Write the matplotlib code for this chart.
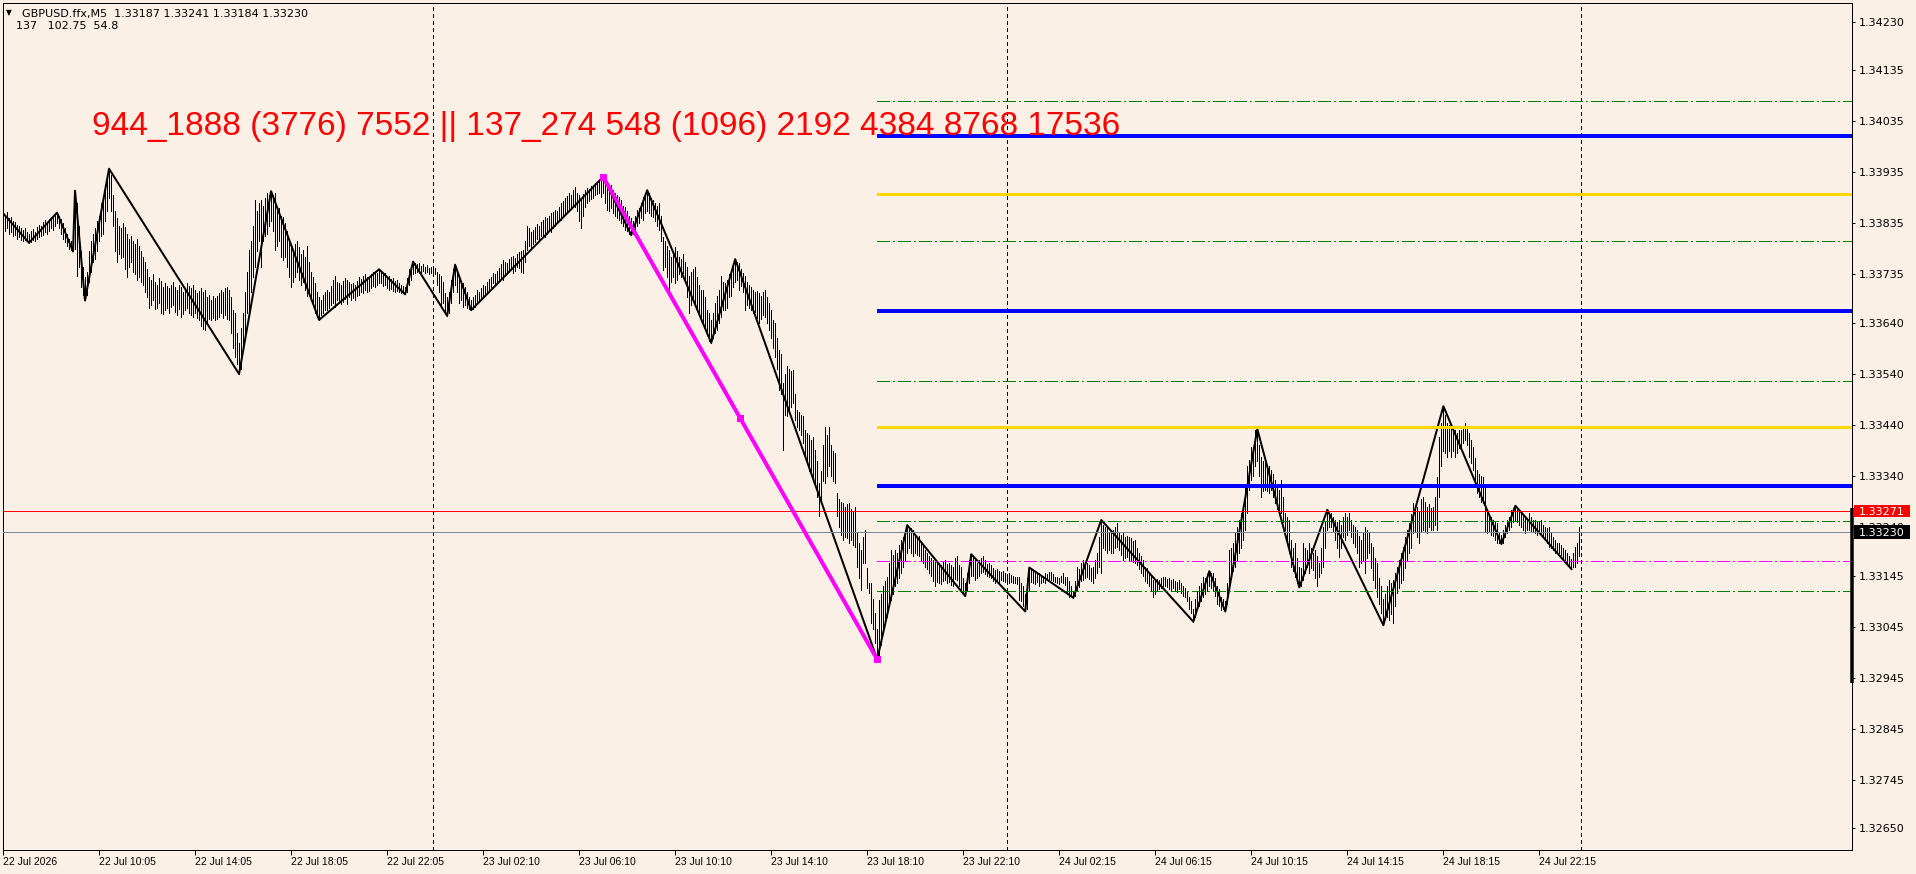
import matplotlib
matplotlib.use("Agg")
import matplotlib.pyplot as plt
from matplotlib import font_manager
from matplotlib.patches import Rectangle
from matplotlib.transforms import IdentityTransform

# M5 bars, (high, low) in points above 1.32900
price_base = 1.32900
point = 0.00001
bar_high_low = [
    (955, 930), (950, 920), (958, 925), (945, 915), (948, 918), (940, 910), (938, 912), (932, 905), (930, 908), (926, 902),
    (922, 900), (925, 903), (918, 900), (915, 897),
    (920, 899), (924, 902), (918, 900), (928, 905), (932, 908), (930, 910), (938, 913), (942, 918), (936, 915), (944, 920),
    (948, 925), (945, 922), (952, 930), (956, 935),
    (950, 925), (944, 915), (935, 905), (925, 898), (915, 890), (905, 885), (900, 882), (915, 880), (999, 885), (975, 831),
    (930, 850), (880, 810), (850, 795), (830, 784),
    (840, 795), (880, 820), (900, 840), (915, 860), (925, 865), (940, 880), (950, 900), (975, 910), (985, 915), (1000, 940),
    (1020, 960), (1042, 985),
    (1030, 960), (990, 930), (960, 880), (945, 860), (930, 875), (925, 868), (935, 870), (928, 845), (915, 830), (905, 850),
    (910, 860), (900, 840), (895, 835), (905, 825), (890, 830), (880, 820), (870, 815), (860, 800), (845, 790), (830, 770),
    (825, 775), (835, 785), (820, 768), (815, 770), (828, 780), (822, 760), (810, 758), (818, 765), (812, 770), (808, 760),
    (815, 772), (820, 775), (810, 762), (805, 755), (815, 768), (811, 752), (800, 758), (806, 765), (818, 770), (812, 760),
    (808, 756), (815, 752), (805, 760), (798, 750), (802, 745), (808, 735), (800, 728), (805, 726), (790, 740), (795, 748),
    (785, 745), (792, 750), (788, 746), (792, 748), (798, 752), (805, 760), (800, 750), (808, 755), (811, 748), (805, 746),
    (790, 720), (766, 690), (760, 674), (720, 660), (700, 640),
    (730, 650), (760, 690), (800, 720), (840, 760), (883, 752), (900, 800), (930, 830), (981, 850), (960, 880), (975, 900),
    (980, 850), (970, 900), (985, 910), (994, 915), (990, 930), (998, 940),
    (990, 920), (994, 883), (960, 890), (965, 900), (950, 870), (948, 864), (935, 870), (920, 850), (900, 830), (890, 811),
    (880, 820), (895, 830), (900, 840), (888, 825), (875, 815), (882, 820), (870, 805), (890, 792), (860, 800), (840, 790),
    (830, 775), (818, 760), (800, 752), (790, 746),
    (785, 755), (795, 760), (800, 765), (805, 766), (800, 770), (812, 775), (825, 780), (831, 772), (820, 785), (818, 780),
    (815, 778), (822, 782), (828, 786), (825, 778), (820, 790), (816, 785), (818, 788), (815, 785), (822, 792), (830, 795),
    (826, 800), (832, 798), (835, 805), (830, 800), (828, 802), (836, 808), (840, 812), (842, 810), (838, 815), (845, 818),
    (840, 818), (835, 812), (838, 815), (830, 808), (832, 805), (826, 806), (828, 803), (822, 800), (825, 802), (818, 800),
    (815, 798), (812, 800), (810, 796),
    (828, 800), (845, 815), (850, 825), (860, 835),
    (858, 838), (855, 840), (857, 837), (852, 838), (855, 842), (850, 838), (853, 840), (848, 836), (850, 838), (846, 832),
    (848, 835), (840, 815), (835, 800), (831, 772), (820, 780), (798, 759), (790, 754),
    (800, 760), (825, 780), (845, 800), (854, 815),
    (840, 800), (831, 780), (820, 785), (818, 772), (810, 775), (800, 770), (790, 768), (785, 765),
    (790, 768), (795, 772), (805, 779), (800, 782), (808, 785), (815, 790), (812, 795), (820, 798), (826, 805), (830, 810),
    (837, 818), (835, 815), (842, 820), (848, 822), (855, 828), (864, 824), (860, 832), (858, 835), (865, 840), (870, 845),
    (872, 838), (868, 842), (875, 850), (878, 848), (880, 840), (883, 837), (900, 860), (929, 883), (925, 890), (918, 885),
    (922, 895), (928, 898), (933, 905), (930, 902), (938, 910), (942, 908), (948, 909), (945, 915), (950, 920), (955, 918),
    (958, 925), (962, 930), (960, 935), (968, 940), (974, 942), (978, 948), (985, 955), (988, 960), (994, 961), (990, 965),
    (1000, 970), (1007, 968), (995, 960), (990, 940), (981, 925), (992, 950), (1000, 968), (1005, 975), (1002, 978), (1008, 982),
    (1010, 985), (1015, 990), (1012, 992), (1020, 995), (1022, 987), (1026, 995),
    (1020, 975), (1018, 961), (1005, 960), (1010, 965), (1000, 955), (995, 950), (990, 945), (987, 942), (980, 935), (970, 930),
    (968, 922), (960, 920), (950, 915), (945, 912),
    (940, 915), (950, 922), (961, 930), (965, 935), (975, 945), (987, 942), (995, 955), (1000, 960),
    (995, 955), (985, 950), (981, 948), (975, 940), (970, 930), (974, 922), (950, 900), (909, 844), (900, 850), (890, 830),
    (883, 805), (870, 820), (878, 830), (888, 818), (880, 825), (870, 835), (865, 830), (876, 837), (860, 820), (850, 790),
    (831, 759), (840, 775), (845, 785), (850, 779), (830, 770), (815, 760), (805, 745), (805, 739), (790, 730), (765, 720),
    (760, 705), (745, 701),
    (760, 710), (780, 720), (792, 726), (805, 740), (831, 752), (820, 765), (818, 765), (825, 770), (835, 790), (844, 792),
    (855, 810), (865, 820),
    (860, 825), (857, 805), (845, 812), (838, 800), (831, 766), (820, 775), (815, 770), (810, 765), (805, 759), (800, 762),
    (802, 750), (798, 739), (792, 748), (800, 755), (805, 752), (790, 740), (779, 726), (765, 710), (745, 690), (739, 674),
    (710, 650), (687, 609), (680, 600), (622, 491), (640, 560), (655, 557), (650, 570), (645, 575), (648, 583), (600, 550),
    (570, 537), (565, 530), (560, 520), (557, 504), (530, 478), (525, 470), (520, 450), (510, 445), (517, 439), (491, 426),
    (470, 400), (426, 361), (450, 390), (500, 430), (537, 426), (520, 440), (537, 459), (500, 440), (490, 430), (485, 426),
    (407, 361), (395, 340), (390, 325), (387, 315), (380, 320), (385, 318), (387, 309), (375, 315), (370, 305), (380, 302),
    (328, 263), (310, 240), (296, 217), (320, 270), (335, 270), (260, 220), (230, 211), (230, 152), (200, 140), (172, 113),
    (140, 81),
    (198, 87), (210, 110), (224, 132), (235, 150), (243, 165), (270, 185), (296, 198), (285, 210), (296, 224), (290, 230),
    (305, 240), (315, 250), (320, 262), (335, 276), (344, 290),
    (340, 300), (338, 290), (335, 283), (325, 290), (320, 285), (322, 283), (310, 275), (305, 270), (296, 263), (290, 258),
    (283, 250), (280, 245), (276, 235), (276, 224), (272, 232), (270, 230), (265, 228), (272, 235), (276, 237), (268, 230),
    (270, 232), (265, 226), (262, 225), (280, 238), (283, 237), (265, 225), (263, 217), (240, 210), (230, 205),
    (250, 215), (275, 230), (287, 245),
    (280, 245), (276, 237), (270, 240), (275, 245), (280, 250), (283, 252), (275, 248), (268, 245), (270, 243), (265, 240),
    (260, 235), (256, 230), (258, 234), (255, 232), (252, 236), (254, 235), (250, 233), (248, 230), (250, 230), (246, 232),
    (244, 230), (243, 230), (242, 228), (243, 198), (230, 195), (224, 185), (210, 175),
    (240, 180), (261, 215),
    (258, 232), (256, 230), (250, 228), (248, 232), (250, 224), (246, 230), (244, 232), (250, 230), (248, 236), (252, 238),
    (253, 237), (248, 235), (243, 232), (243, 230), (240, 228), (245, 232), (250, 230), (242, 226), (243, 210), (235, 204),
    (225, 205), (215, 202),
    (235, 205), (263, 217), (258, 222), (270, 235), (276, 237), (272, 240), (270, 243), (265, 238), (260, 235), (263, 230),
    (275, 240), (289, 250), (320, 262), (354, 250),
    (345, 300), (340, 295), (341, 289), (330, 295), (335, 290), (334, 289), (340, 300), (348, 302), (330, 295), (325, 285),
    (328, 276), (320, 280), (322, 282), (321, 276), (318, 275), (312, 272), (315, 270), (300, 265), (290, 258), (283, 250),
    (275, 245), (263, 235), (260, 230), (250, 225), (245, 215), (237, 204), (235, 210), (238, 215), (237, 218), (240, 220),
    (243, 225), (242, 224), (238, 222), (240, 218), (236, 215), (238, 220), (235, 216), (232, 214), (237, 218), (230, 212),
    (224, 205), (220, 204), (215, 195), (204, 180), (195, 172), (180, 155),
    (200, 165), (215, 180), (224, 185), (230, 195), (243, 204), (240, 210), (248, 215), (254, 225),
    (250, 220), (250, 217), (240, 205), (224, 190), (218, 185), (204, 178), (200, 180), (195, 175),
    (230, 190), (296, 224), (300, 240), (310, 255), (328, 263), (340, 275), (354, 289), (367, 300), (374, 315), (420, 335),
    (459, 367), (472, 413), (498, 432), (490, 440), (530, 459), (532, 470),
    (500, 440), (478, 400), (470, 410), (465, 413), (460, 410), (459, 406), (452, 413), (445, 400), (433, 387), (420, 375),
    (413, 367), (433, 367), (400, 350), (367, 335), (360, 310), (354, 289), (315, 263), (300, 255), (309, 243), (280, 230),
    (263, 222),
    (260, 225), (309, 237), (300, 250), (296, 263), (309, 250), (300, 260), (289, 256), (295, 240), (283, 224), (270, 243),
    (300, 250), (341, 263), (350, 300), (374, 335),
    (365, 340), (367, 341), (360, 330), (354, 315), (350, 300), (354, 282), (345, 300), (360, 320), (367, 315), (360, 325),
    (367, 335), (355, 320), (345, 310), (341, 302), (335, 290), (322, 263), (315, 270), (330, 275), (341, 250), (335, 280),
    (330, 290), (310, 260), (302, 237), (280, 220), (269, 204), (240, 190), (224, 171), (200, 148),
    (210, 160), (225, 165), (237, 158), (230, 170), (237, 152), (250, 185), (263, 211), (275, 220), (290, 230), (302, 237),
    (320, 260), (335, 275), (348, 289), (365, 300), (387, 328), (375, 330), (380, 320), (370, 309), (395, 330), (400, 335),
    (390, 330), (380, 328), (385, 340), (378, 335), (380, 335), (400, 345), (439, 335), (517, 400), (545, 460), (577, 490),
    (560, 485), (544, 478), (540, 490), (537, 478), (535, 490), (530, 478), (525, 485), (530, 495), (530, 491), (538, 505),
    (544, 511), (535, 500), (524, 478), (510, 465), (498, 452), (475, 430), (452, 406), (445, 400), (440, 390), (439, 387),
    (420, 330), (374, 328), (365, 330), (360, 325), (354, 322), (350, 315), (348, 309), (330, 310), (325, 307),
    (335, 310), (345, 320), (354, 328), (360, 335), (374, 341), (378, 350), (382, 355),
    (375, 350), (370, 345), (367, 341), (365, 335), (361, 328), (358, 335), (367, 335), (360, 332), (355, 330), (354, 328),
    (352, 325), (350, 328), (354, 326), (345, 320), (341, 315), (338, 310), (341, 302), (330, 300), (320, 295), (315, 289),
    (310, 290), (309, 289), (305, 285), (300, 280), (296, 276), (290, 270), (283, 263), (278, 258),
    (290, 262), (302, 263), (309, 270), (341, 284),
]

# zigzag swing points: bar index and points above base
zigzag_bars = [0, 13, 27, 35, 36, 41, 53, 118, 134, 158, 188, 201, 205, 222, 226, 234, 300, 314, 322, 354,
               366, 437, 452, 481, 484, 511, 513, 535, 549, 595, 603, 611, 627, 648, 662, 690, 720, 749, 756, 784]
zigzag_points = [955, 897, 956, 880, 999, 784, 1042, 640, 998, 746, 845, 796, 860, 754, 854, 765, 1026, 912, 1000, 701,
                 865, 81, 344, 205, 287, 175, 261, 202, 354, 155, 254, 175, 532, 222, 374, 148, 577, 307, 382, 258]

# the measured leg (magenta)
swing_bars = [300, 437]
swing_points = [1026, 81]

level_prices = [1.34075, 1.34007, 1.33892, 1.33801, 1.33664, 1.33527,
                1.33436, 1.33321, 1.33252, 1.33173, 1.33115]
level_kinds = ["fib", "blue", "gold", "fib", "blue", "fib",
               "gold", "blue", "fib", "mid", "fib"]
level_start_bar = 437

alert_price = 1.33271
bid_price = 1.33230
scale_bar_prices = [1.33278, 1.32935]

y_tick_prices = [1.34230, 1.34135, 1.34035, 1.33935, 1.33835, 1.33735, 1.33640, 1.33540, 1.33440,
                 1.33340, 1.33240, 1.33145, 1.33045, 1.32945, 1.32845, 1.32745, 1.32650]
x_tick_labels = ["22 Jul 2026", "22 Jul 10:05", "22 Jul 14:05", "22 Jul 18:05", "22 Jul 22:05",
                 "23 Jul 02:10", "23 Jul 06:10", "23 Jul 10:10", "23 Jul 14:10", "23 Jul 18:10",
                 "23 Jul 22:10", "24 Jul 02:15", "24 Jul 06:15", "24 Jul 10:15", "24 Jul 14:15",
                 "24 Jul 18:15", "24 Jul 22:15"]
bars_per_tick = 48
day_separator_bars = [215, 502, 789]

header_symbol = "GBPUSD.ffx,M5"
header_ohlc = ["1.33187", "1.33241", "1.33184", "1.33230"]
header_info = "137   102.75  54.8"
fib_text = "944_1888 (3776) 7552 || 137_274 548 (1096) 2192 4384 8768 17536"


def pick_font(names):
    for name in names:
        try:
            font_manager.findfont(name, fallback_to_default=False)
            return name
        except ValueError:
            pass
    return "DejaVu Sans"


W, H = 1916, 874
PX = 0.72  # one pixel in points at dpi 100
bg = "#faf0e6"

plt.rcParams["lines.scale_dashes"] = False
plt.rcParams["font.family"] = ["DejaVu Sans"]

date_font = pick_font(["Liberation Sans", "Arimo", "DejaVu Sans"])
date_size = 7.5 if date_font != "DejaVu Sans" else 7.0
title_font = pick_font(["Liberation Sans", "Arimo", "DejaVu Sans"])

fig = plt.figure(figsize=(W / 100, H / 100), dpi=100, facecolor=bg)
ax = fig.add_axes([2.5 / W, 24 / H, 1849.5 / W, 847.5 / H])
ax.set_facecolor(bg)
x_left, x_right = -0.25, 924.25
ax.set_xlim(x_left, x_right)
ax.set_ylim(1.326078, 1.342676)

to_price = lambda v: price_base + v * point

bar_x = list(range(len(bar_high_low)))
highs = [to_price(h) for h, l in bar_high_low]
lows = [to_price(l) for h, l in bar_high_low]

dashdot = (0, (12 * PX, 3 * PX, 1.5 * PX, 3 * PX))

for b in day_separator_bars:
    ax.axvline(b, color="black", lw=PX, ls=(0, (3 * PX, 3 * PX)),
               antialiased=False, zorder=1)

ax.vlines(bar_x, lows, highs, colors="black", linewidth=PX,
          antialiased=False, zorder=2)

ax.plot(zigzag_bars, [to_price(v) for v in zigzag_points],
        color="black", lw=2 * PX, zorder=3)

level_look = {
    "blue": dict(color="#0000ff", lw=4 * PX, ls="-"),
    "gold": dict(color="#ffd700", lw=3 * PX, ls="-"),
    "fib": dict(color="#008000", lw=PX, ls=dashdot),
    "mid": dict(color="#ff00ff", lw=PX, ls=dashdot),
}
for p, kind in zip(level_prices, level_kinds):
    ax.plot([level_start_bar, x_right], [p, p], solid_capstyle="butt",
            antialiased=False, zorder=4, **level_look[kind])

ax.axhline(alert_price, color="#ff0000", lw=PX, antialiased=False, zorder=4)
ax.axhline(bid_price, color="#778899", lw=PX, antialiased=False, zorder=4)

swing_y = [to_price(v) for v in swing_points]
ax.plot(swing_bars, swing_y, color="#ff00ff", lw=4 * PX,
        solid_capstyle="butt", zorder=5)
mid_x = (swing_bars[0] + swing_bars[1]) / 2
mid_y = (swing_y[0] + swing_y[1]) / 2
ax.plot([swing_bars[0], mid_x, swing_bars[1]], [swing_y[0], mid_y, swing_y[1]],
        ls="none", marker="s", ms=7 * PX, mew=0, color="#ff00ff", zorder=6)

ax.plot([1, 1], scale_bar_prices, transform=ax.get_yaxis_transform(),
        color="black", lw=3.5 * PX, solid_capstyle="butt", clip_on=False, zorder=6)

for s in ax.spines.values():
    s.set_linewidth(PX)
    s.set_color("black")

ax.yaxis.tick_right()
ax.set_yticks(y_tick_prices)
ax.set_yticklabels([f"{p:.5f}" for p in y_tick_prices])
ax.tick_params(axis="y", direction="out", length=3 * PX, width=PX,
               pad=4 * PX, labelsize=8, colors="black")

ax.set_xticks([k * bars_per_tick for k in range(len(x_tick_labels))])
ax.set_xticklabels(x_tick_labels)
ax.tick_params(axis="x", direction="out", length=5 * PX, width=PX,
               pad=2 * PX, labelsize=date_size, colors="black")
for t in ax.get_xticklabels():
    t.set_horizontalalignment("left")
    t.set_fontfamily([date_font, "DejaVu Sans"])

# price tags on the scale
right_px = ax.transAxes.transform((1, 0))[0]
for price, face, h in [(alert_price, "#ff0000", 12), (bid_price, "black", 14)]:
    y_px = ax.transData.transform((0, price))[1]
    fig.add_artist(Rectangle((right_px + 2, y_px - h / 2), 56, h,
                             transform=IdentityTransform(), facecolor=face,
                             edgecolor="none", zorder=5))
    fig.text(right_px + 7, y_px, f"{price:.5f}", transform=IdentityTransform(),
             color="white", fontsize=8, va="center_baseline", ha="left", zorder=6)

fig.text(6 / W, 1 - 15.5 / H, "\u25bc", fontsize=5.5, va="baseline")
fig.text(21.7 / W, 1 - 16.7 / H, header_symbol + "  " + " ".join(header_ohlc),
         fontsize=8, va="baseline")
fig.text(15.7 / W, 1 - 29.3 / H, header_info, fontsize=8, va="baseline")

fig.text(92 / W, 1 - 135 / H, fib_text, color="#ff0000", fontsize=24.0,
         family=[title_font, "DejaVu Sans"], va="baseline")

fig.savefig("out.png", dpi=100, facecolor=bg)
